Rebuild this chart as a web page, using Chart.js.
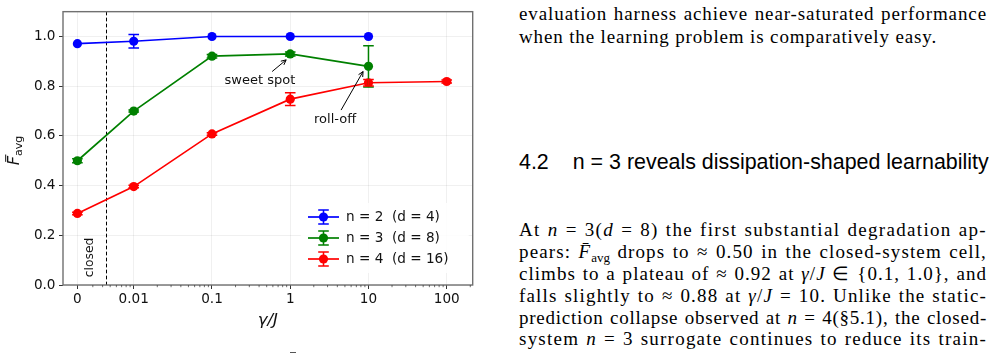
<!DOCTYPE html>
<html>
<head>
<meta charset="utf-8">
<script src="https://cdn.jsdelivr.net/npm/chart.js@4.4.0/dist/chart.umd.min.js"></script>
<style>
html, body { margin: 0; padding: 0; background: #fff; }
body { width: 1003px; height: 356px; position: relative; overflow: hidden; }
#chartBox { position: absolute; left: 0; top: 0; width: 480px; height: 356px; }
.ln {
    position: absolute; left: 519px; width: 468px;
    font-family: "Liberation Serif", serif; font-size: 19px; line-height: 22px; height: 22px;
    color: #000; text-align: justify; text-align-last: justify; white-space: nowrap;
}
.ln.last { text-align-last: left; }
.sb { font-size: 13px; position: relative; top: 4px; letter-spacing: 0; }
#sec {
    position: absolute; left: 519px; white-space: nowrap;
    font-family: "Liberation Sans", sans-serif; font-size: 19px; line-height: 19px; color: #000;
}
#sec .num { margin-right: 24px; }
#bar { position: absolute; left: 290px; top: 352px; width: 6px; height: 1px; background: #555; }
</style>
</head>
<body>
<div id="chartBox"><canvas id="fidChart"></canvas></div>

<div class="ln" style="top:2.6px">evaluation harness achieve near-saturated performance</div>
<div class="ln last" data-w="418" style="top:26.1px">when the learning problem is comparatively easy.</div>

<div id="sec"><span class="num">4.2</span>n = 3 reveals dissipation-shaped learnability</div>

<div class="ln" style="top:219.3px">At <i>n</i> = 3(<i>d</i> = 8) the first substantial degradation ap-</div>
<div class="ln" style="top:241.1px">pears: <i>F&#772;</i><span class="sb">avg</span> drops to &#8776; 0.50 in the closed-system cell,</div>
<div class="ln" style="top:262.9px">climbs to a plateau of &#8776; 0.92 at <i>&#947;</i>/<i>J</i> &#8712; {0.1, 1.0}, and</div>
<div class="ln" style="top:284.7px">falls slightly to &#8776; 0.88 at <i>&#947;</i>/<i>J</i> = 10. Unlike the static-</div>
<div class="ln" style="top:306.5px">prediction collapse observed at <i>n</i> = 4(&#167;5.1), the closed-</div>
<div class="ln" style="top:328.3px">system <i>n</i> = 3 surrogate continues to reduce its train-</div>
<div id="bar"></div>

<script>
// gamma/J values on the x axis, and their tick labels
const gammaValues = [0, 0.01, 0.1, 1, 10, 100];
const gammaLabels = ['0', '0.01', '0.1', '1', '10', '100'];

// average fidelity per system size (null = not measured)
const fidN2 = [0.971, 0.981, 1.000, 1.000, 1.000, null];
const errN2 = [0.000, 0.027, 0.000, 0.000, 0.000, null];
const fidN3 = [0.500, 0.700, 0.921, 0.930, 0.880, null];
const errN3 = [0.008, 0.004, 0.007, 0.008, 0.083, null];
const fidN4 = [0.288, 0.396, 0.608, 0.748, 0.814, 0.819];
const errN4 = [0.005, 0.005, 0.005, 0.026, 0.013, 0.006];

const seriesLabels = ['n = 2  (d = 4)', 'n = 3  (d = 8)', 'n = 4  (d = 16)'];
const yTicks = [0, 0.2, 0.4, 0.6, 0.8, 1.0];

// gamma = 0 (closed system) is parked left of 0.01 on the log axis
const CLOSED_POS = -2.72;
function toX(g) {
    return g === 0 ? CLOSED_POS : Math.log10(g);
}

function makeSet(label, vals, errs, color) {
    const pts = [], e = [];
    gammaValues.forEach((g, i) => {
        if (vals[i] == null) return;
        pts.push({x: toX(g), y: vals[i]});
        e.push(errs[i]);
    });
    return {
        label: label,
        data: pts,
        errs: e,
        showLine: true,
        borderColor: color,
        backgroundColor: color,
        borderWidth: 1.7,
        pointRadius: 4.6,
        pointHoverRadius: 4.6,
        pointBorderWidth: 0,
        tension: 0
    };
}

const FONT = '"DejaVu Sans"';
const CAP = 5.3;

const decor = {
    id: 'decor',
    beforeDatasetsDraw(chart) {
        const {ctx, chartArea: a, scales: {x, y}} = chart;
        // closed-system divider
        const xd = x.getPixelForValue((CLOSED_POS + Math.log10(0.01)) / 2);
        ctx.save();
        ctx.strokeStyle = '#000';
        ctx.lineWidth = 1;
        ctx.setLineDash([3.7, 2.3]);
        ctx.beginPath();
        ctx.moveTo(Math.round(xd) + 0.5, a.top);
        ctx.lineTo(Math.round(xd) + 0.5, a.bottom);
        ctx.stroke();
        ctx.setLineDash([]);
        ctx.translate(x.getPixelForValue(-2.556), y.getPixelForValue(0.111));
        ctx.rotate(-Math.PI / 2);
        ctx.fillStyle = '#111';
        ctx.font = '12.3px ' + FONT;
        ctx.textAlign = 'center';
        ctx.textBaseline = 'middle';
        ctx.fillText('closed', 0, 0);
        ctx.restore();
    },
    afterDatasetsDraw(chart) {
        const {ctx, scales: {x, y}} = chart;
        ctx.save();
        chart.data.datasets.forEach(ds => {
            ctx.strokeStyle = ds.borderColor;
            ctx.lineWidth = 1.5;
            ds.data.forEach((p, i) => {
                const e = ds.errs[i];
                if (!e) return;
                const px = x.getPixelForValue(p.x);
                const y1 = y.getPixelForValue(p.y - e);
                const y2 = y.getPixelForValue(p.y + e);
                ctx.beginPath();
                ctx.moveTo(px, y1); ctx.lineTo(px, y2);
                ctx.moveTo(px - CAP, y1); ctx.lineTo(px + CAP, y1);
                ctx.moveTo(px - CAP, y2); ctx.lineTo(px + CAP, y2);
                ctx.stroke();
            });
        });
        ctx.restore();
    },
    afterDraw(chart) {
        const {ctx, chartArea: a, scales: {x, y}} = chart;
        ctx.save();

        // frame
        ctx.strokeStyle = '#707070';
        ctx.lineWidth = 1.4;
        ctx.strokeRect(a.left, a.top, a.right - a.left, a.bottom - a.top);

        // minor log ticks
        ctx.strokeStyle = '#333';
        ctx.lineWidth = 0.7;
        ctx.beginPath();
        for (let d = -3; d <= 2; d++) {
            for (let k = 2; k <= 9; k++) {
                const v = Math.log10(k) + d;
                if (v <= CLOSED_POS + 0.03 || v >= x.max) continue;
                const px = x.getPixelForValue(v);
                ctx.moveTo(px, a.bottom);
                ctx.lineTo(px, a.bottom + 2.2);
            }
        }
        ctx.stroke();

        // annotations
        const notes = [
            {text: 'sweet spot', at: [-0.387, 0.823], from: [-0.231, 0.859], to: [-0.052, 0.906]},
            {text: 'roll-off', at: [0.573, 0.665], from: [0.650, 0.704], to: [0.931, 0.859]}
        ];
        ctx.fillStyle = '#111';
        ctx.strokeStyle = '#000';
        ctx.lineWidth = 1;
        ctx.font = '13px ' + FONT;
        ctx.textAlign = 'center';
        ctx.textBaseline = 'middle';
        notes.forEach(n => {
            ctx.fillText(n.text, x.getPixelForValue(n.at[0]), y.getPixelForValue(n.at[1]));
            const x0 = x.getPixelForValue(n.from[0]), y0 = y.getPixelForValue(n.from[1]);
            const x1 = x.getPixelForValue(n.to[0]), y1 = y.getPixelForValue(n.to[1]);
            const ang = Math.atan2(y1 - y0, x1 - x0);
            ctx.beginPath();
            ctx.moveTo(x0, y0); ctx.lineTo(x1, y1);
            ctx.moveTo(x1 - 5.5 * Math.cos(ang - 0.45), y1 - 5.5 * Math.sin(ang - 0.45));
            ctx.lineTo(x1, y1);
            ctx.lineTo(x1 - 5.5 * Math.cos(ang + 0.45), y1 - 5.5 * Math.sin(ang + 0.45));
            ctx.stroke();
        });

        // legend, lower right
        const bx = a.right - 172, by = a.bottom - 82;
        ctx.fillStyle = 'rgba(255,255,255,0.85)';
        ctx.fillRect(bx, by, 168, 70);
        ctx.font = '13.6px ' + FONT;
        ctx.textAlign = 'left';
        chart.data.datasets.forEach((ds, i) => {
            const ry = a.bottom - 68 + i * 21;
            const lx0 = a.right - 164.7, lx1 = a.right - 133.7, mx = (lx0 + lx1) / 2;
            ctx.strokeStyle = ds.borderColor;
            ctx.fillStyle = ds.borderColor;
            ctx.lineWidth = 1.7;
            ctx.beginPath();
            ctx.moveTo(lx0, ry); ctx.lineTo(lx1, ry);
            ctx.stroke();
            ctx.lineWidth = 1.5;
            ctx.beginPath();
            ctx.moveTo(mx, ry - 7); ctx.lineTo(mx, ry + 7);
            ctx.moveTo(mx - CAP, ry - 7); ctx.lineTo(mx + CAP, ry - 7);
            ctx.moveTo(mx - CAP, ry + 7); ctx.lineTo(mx + CAP, ry + 7);
            ctx.stroke();
            ctx.beginPath();
            ctx.arc(mx, ry, 4.6, 0, Math.PI * 2);
            ctx.fill();
            ctx.fillStyle = '#111';
            ctx.fillText(ds.label.replace(/  /g, ' \u00a0'), a.right - 126.7, ry + 0.5);
        });

        // y axis title: F-bar avg
        ctx.fillStyle = '#111';
        ctx.strokeStyle = '#111';
        ctx.translate(13, (a.top + a.bottom) / 2 + 4);
        ctx.rotate(-Math.PI / 2);
        ctx.textBaseline = 'alphabetic';
        ctx.textAlign = 'left';
        ctx.font = 'italic 16px ' + FONT;
        ctx.fillText('F', -13, 6);
        ctx.lineWidth = 1;
        ctx.beginPath();
        ctx.moveTo(-9.5, -7.3); ctx.lineTo(-2.2, -7.3);
        ctx.stroke();
        ctx.font = '11px ' + FONT;
        ctx.fillText('avg', -3.6, 9.3);
        ctx.restore();

        // x axis title
        ctx.save();
        ctx.fillStyle = '#111';
        ctx.font = 'italic 16.5px ' + FONT;
        ctx.textAlign = 'center';
        ctx.textBaseline = 'alphabetic';
        ctx.fillText('\u03b3/J', (a.left + a.right) / 2, 324.5);
        ctx.restore();
    }
};

const fidChart = new Chart(document.getElementById('fidChart'), {
    type: 'scatter',
    data: {
        datasets: [
            makeSet(seriesLabels[0], fidN2, errN2, '#0000ff'),
            makeSet(seriesLabels[1], fidN3, errN3, '#008000'),
            makeSet(seriesLabels[2], fidN4, errN4, '#ff0000')
        ]
    },
    options: {
        responsive: true,
        maintainAspectRatio: false,
        animation: false,
        layout: {padding: {left: 0, top: 6, right: 7.3, bottom: 0}},
        plugins: {
            legend: {display: false},
            tooltip: {enabled: false}
        },
        scales: {
            x: {
                type: 'linear',
                min: -2.904,
                max: 2.332,
                afterBuildTicks: s => { s.ticks = gammaValues.map(g => ({value: toX(g)})); },
                afterFit: s => { s.height = 71; },
                ticks: {
                    autoSkip: false,
                    maxRotation: 0,
                    padding: 2,
                    color: '#111',
                    font: {family: 'DejaVu Sans', size: 13.6},
                    callback: (v, i) => gammaLabels[i]
                },
                grid: {color: 'rgba(0,0,0,0.08)', lineWidth: 0.8, tickColor: '#333', tickLength: 4, tickWidth: 1},
                border: {display: false}
            },
            y: {
                min: 0,
                max: 1.1,
                afterBuildTicks: s => { s.ticks = yTicks.map(v => ({value: v})); },
                afterFit: s => { s.width = 63; },
                ticks: {
                    padding: 3.5,
                    color: '#111',
                    font: {family: 'DejaVu Sans', size: 13.6},
                    callback: v => v.toFixed(1)
                },
                grid: {color: 'rgba(0,0,0,0.08)', lineWidth: 0.8, tickColor: '#333', tickLength: 4, tickWidth: 1},
                border: {display: false}
            }
        }
    },
    plugins: [decor]
});

// fit the section heading to the width it has in the page
(function () {
    const h = document.getElementById('sec');
    const fs = 19 * 473 / h.getBoundingClientRect().width;
    h.style.fontSize = fs + 'px';
    h.style.lineHeight = fs + 'px';
    h.style.top = (170 - 0.8465 * fs) + 'px';
})();

// widen the serif glyphs a little so lines fill like the typeset page
document.querySelectorAll('.ln').forEach(el => {
    const span = document.createElement('span');
    while (el.firstChild) span.appendChild(el.firstChild);
    el.appendChild(span);
    el.style.textAlign = 'left';
    el.style.textAlignLast = 'left';
    const w = span.getBoundingClientRect().width;
    const n = el.textContent.length;
    const spaces = (el.textContent.match(/ /g) || []).length;
    const target = el.dataset.w ? +el.dataset.w : 468 - spaces * 1.0;
    const ls = (target - w) / n;
    if (ls > 0) span.style.letterSpacing = ls + 'px';
    el.style.textAlign = '';
    el.style.textAlignLast = '';
});
</script>
</body>
</html>
